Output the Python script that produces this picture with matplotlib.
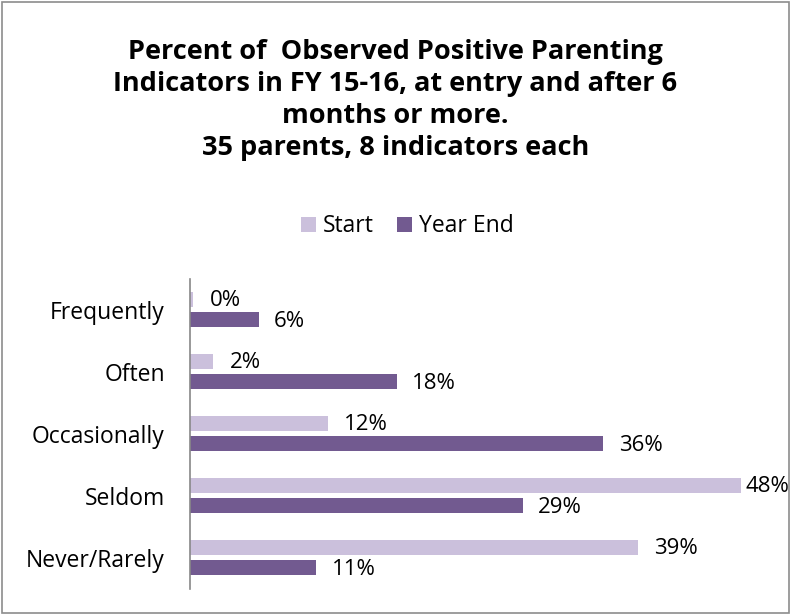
import numpy as np
import matplotlib
matplotlib.use("Agg")
from matplotlib import pyplot as plt
from matplotlib.patches import Rectangle

plt.rcParams['font.family'] = ['Open Sans', 'DejaVu Sans']

categories = ['Frequently', 'Often', 'Occasionally', 'Seldom', 'Never/Rarely']
start = [0.003, 0.02, 0.12, 0.48, 0.39]
start_labels = ['0%', '2%', '12%', '48%', '39%']
year_end = [0.06, 0.18, 0.36, 0.29, 0.11]
year_end_labels = ['6%', '18%', '36%', '29%', '11%']

c_start = '#CBC0DC'
c_end = '#725A90'

fig = plt.figure(figsize=(7.91, 6.15), dpi=100)
ax = fig.add_axes([0.240, 0.043, 0.726, 0.504])

y = np.arange(len(categories))
off = 0.165
h = 0.245
b1 = ax.barh(y - off, start, height=h, color=c_start, label='Start')
b2 = ax.barh(y + off, year_end, height=h, color=c_end, label='Year End')

for yy, v, t in zip(y - off, start, start_labels):
    dx = 3 if v > 0.45 else 12   # label squeezed at the right edge
    ax.annotate(t, (v, yy), xytext=(dx, -1), textcoords='offset points',
                va='center', ha='left', fontsize=16, annotation_clip=False)
for yy, v, t in zip(y + off, year_end, year_end_labels):
    ax.annotate(t, (v, yy), xytext=(11, -1), textcoords='offset points',
                va='center', ha='left', fontsize=16)

ax.set_xlim(0, 0.5)
ax.set_ylim(len(categories) - 0.5, -0.5)
ax.set_yticks(y)
ax.set_yticklabels(categories, fontsize=16.5)
ax.tick_params(axis='y', length=0, pad=18)
ax.set_xticks([])
for s in ['top', 'right', 'bottom']:
    ax.spines[s].set_visible(False)
ax.spines['left'].set_color('#888888')
ax.spines['left'].set_linewidth(1.2)

fig.text(0.5, 0.838, 'Percent of  Observed Positive Parenting\n'
         'Indicators in FY 15-16, at entry and after 6\n'
         'months or more.\n35 parents, 8 indicators each',
         ha='center', va='center', fontsize=19.5, fontweight='bold',
         linespacing=1.3)

fig.legend(handles=[b1, b2], loc='center', bbox_to_anchor=(0.515, 0.632),
           ncol=2, frameon=False, fontsize=16.5, handlelength=0.65,
           handleheight=0.65, handletextpad=0.3, columnspacing=1.0)

fig.add_artist(Rectangle((0.003, 0.003), 0.994, 0.994, transform=fig.transFigure,
                         fill=False, edgecolor='#8C8C8C', linewidth=1.2))

fig.savefig('out.png', dpi=100, facecolor='white')
